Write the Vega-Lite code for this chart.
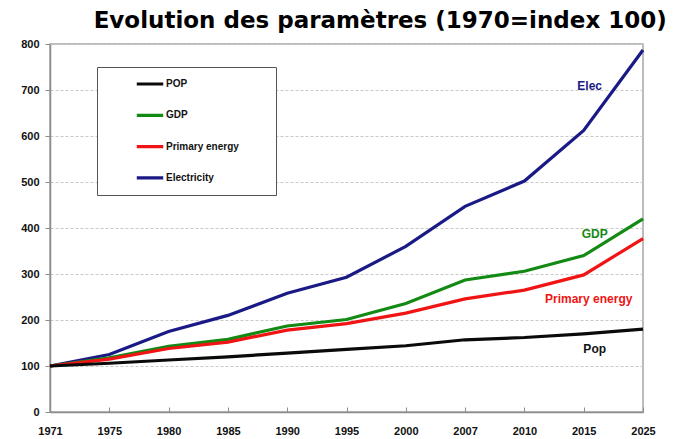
{
  "$schema": "https://vega.github.io/schema/vega-lite/v6.json",
  "autosize": "none",
  "width": 593,
  "height": 368,
  "padding": {"left": 50, "top": 44, "right": 31, "bottom": 27},
  "background": "white",
  "title": {
    "text": "Evolution des paramètres (1970=index 100)",
    "anchor": "start",
    "dx": 73,
    "offset": 5,
    "limit": 0,
    "font": "DejaVu Sans",
    "fontSize": 23,
    "fontWeight": "bold",
    "color": "black"
  },
  "config": {
    "view": {"stroke": "#a6a6a6", "strokeWidth": 1.5},
    "axis": {"labelFont": "Liberation Sans", "labelFontSize": 11, "labelColor": "#111", "labelFontWeight": "bold", "domainColor": "#8c8c8c", "tickColor": "#8c8c8c", "domainWidth": 1.5, "title": null}
  },
  "datasets": {
    "series": [
      {"year": "1971", "series": "Electricity", "value": 100},
      {"year": "1975", "series": "Electricity", "value": 125},
      {"year": "1980", "series": "Electricity", "value": 175},
      {"year": "1985", "series": "Electricity", "value": 210},
      {"year": "1990", "series": "Electricity", "value": 258},
      {"year": "1995", "series": "Electricity", "value": 293},
      {"year": "2000", "series": "Electricity", "value": 360},
      {"year": "2007", "series": "Electricity", "value": 447},
      {"year": "2010", "series": "Electricity", "value": 502},
      {"year": "2015", "series": "Electricity", "value": 612},
      {"year": "2025", "series": "Electricity", "value": 787},
      {"year": "1971", "series": "GDP", "value": 100},
      {"year": "1975", "series": "GDP", "value": 118},
      {"year": "1980", "series": "GDP", "value": 143},
      {"year": "1985", "series": "GDP", "value": 158},
      {"year": "1990", "series": "GDP", "value": 187},
      {"year": "1995", "series": "GDP", "value": 201},
      {"year": "2000", "series": "GDP", "value": 236},
      {"year": "2007", "series": "GDP", "value": 287},
      {"year": "2010", "series": "GDP", "value": 306},
      {"year": "2015", "series": "GDP", "value": 340},
      {"year": "2025", "series": "GDP", "value": 420},
      {"year": "1971", "series": "Primary energy", "value": 100},
      {"year": "1975", "series": "Primary energy", "value": 115},
      {"year": "1980", "series": "Primary energy", "value": 138},
      {"year": "1985", "series": "Primary energy", "value": 152},
      {"year": "1990", "series": "Primary energy", "value": 178},
      {"year": "1995", "series": "Primary energy", "value": 192},
      {"year": "2000", "series": "Primary energy", "value": 215},
      {"year": "2007", "series": "Primary energy", "value": 246},
      {"year": "2010", "series": "Primary energy", "value": 265},
      {"year": "2015", "series": "Primary energy", "value": 298},
      {"year": "2025", "series": "Primary energy", "value": 377},
      {"year": "1971", "series": "POP", "value": 100},
      {"year": "1975", "series": "POP", "value": 106},
      {"year": "1980", "series": "POP", "value": 113},
      {"year": "1985", "series": "POP", "value": 120},
      {"year": "1990", "series": "POP", "value": 128},
      {"year": "1995", "series": "POP", "value": 136},
      {"year": "2000", "series": "POP", "value": 144},
      {"year": "2007", "series": "POP", "value": 157},
      {"year": "2010", "series": "POP", "value": 162},
      {"year": "2015", "series": "POP", "value": 170},
      {"year": "2025", "series": "POP", "value": 180}
    ]
  },
  "layer": [
    {
      "data": {"name": "series"},
      "mark": {"type": "line", "strokeWidth": 3.2},
      "encoding": {
        "x": {
          "field": "year", "type": "ordinal",
          "scale": {"type": "point", "padding": 0},
          "axis": {"labelAngle": 0, "tickSize": -5, "labelPadding": 18, "grid": false}
        },
        "y": {
          "field": "value", "type": "quantitative",
          "scale": {"domain": [0, 800], "nice": false},
          "axis": {"values": [0, 100, 200, 300, 400, 500, 600, 700, 800], "tickSize": 5, "labelPadding": 6, "grid": true, "gridColor": "#c8c8c8", "gridDash": [3, 2], "gridWidth": 1}
        },
        "color": {
          "field": "series", "type": "nominal",
          "scale": {"domain": ["POP", "GDP", "Primary energy", "Electricity"], "range": ["#0a0a0a", "#138a13", "#f01414", "#1a1a86"]},
          "legend": {
            "title": "\u00a0",
            "titleOrient": "right",
            "titlePadding": 32,
            "titleFontSize": 10,
            "orient": "none",
            "legendX": 47,
            "legendY": 23,
            "symbolType": "stroke",
            "symbolSize": 700,
            "symbolStrokeWidth": 3.2,
            "symbolOffset": 33,
            "labelFont": "Liberation Sans",
            "labelFontSize": 10,
            "labelFontWeight": "bold",
            "labelColor": "#111",
            "labelOffset": 1,
            "clipHeight": 24,
            "rowPadding": 7.3,
            "padding": 5,
            "strokeColor": "#555",
            "fillColor": "white"
          }
        }
      }
    },
    {
      "data": {"values": [{}]},
      "mark": {"type": "text", "text": "Elec", "font": "Liberation Sans", "fontSize": 12, "fontWeight": "bold", "color": "#1a1a86", "dx": 6},
      "encoding": {"x": {"datum": "2015", "type": "ordinal"}, "y": {"datum": 709, "type": "quantitative"}}
    },
    {
      "data": {"values": [{}]},
      "mark": {"type": "text", "text": "GDP", "font": "Liberation Sans", "fontSize": 12, "fontWeight": "bold", "color": "#138a13", "dx": 11},
      "encoding": {"x": {"datum": "2015", "type": "ordinal"}, "y": {"datum": 388, "type": "quantitative"}}
    },
    {
      "data": {"values": [{}]},
      "mark": {"type": "text", "text": "Primary energy", "font": "Liberation Sans", "fontSize": 12, "fontWeight": "bold", "color": "#f01414", "dx": 5},
      "encoding": {"x": {"datum": "2015", "type": "ordinal"}, "y": {"datum": 246, "type": "quantitative"}}
    },
    {
      "data": {"values": [{}]},
      "mark": {"type": "text", "text": "Pop", "font": "Liberation Sans", "fontSize": 12, "fontWeight": "bold", "color": "#111", "dx": 11},
      "encoding": {"x": {"datum": "2015", "type": "ordinal"}, "y": {"datum": 138, "type": "quantitative"}}
    }
  ]
}
